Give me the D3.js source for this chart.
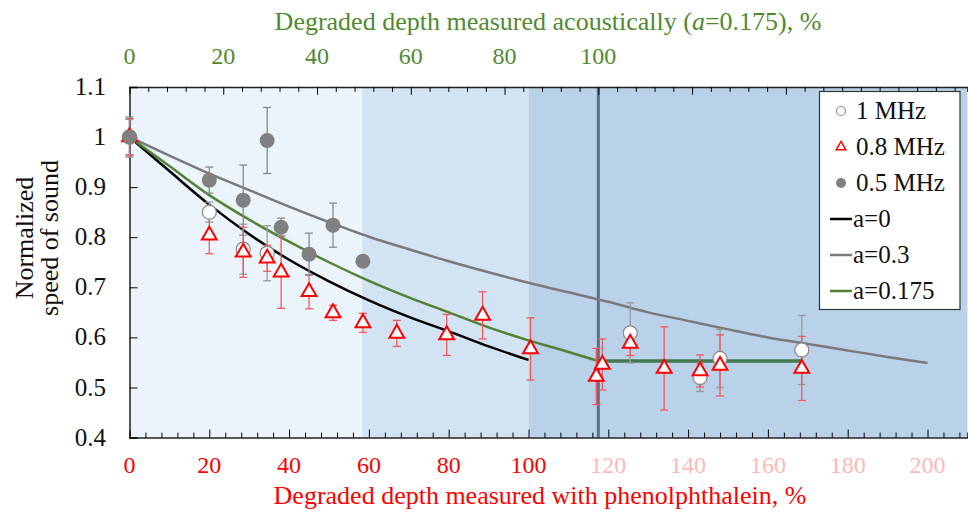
<!DOCTYPE html>
<html>
<head>
<meta charset="utf-8">
<script src="https://cdn.jsdelivr.net/npm/d3@7"></script>
<style>
  body { margin: 0; background: #fff; }
  svg text { font-family: "Liberation Serif", "Times New Roman", Times, "Noto Serif", "DejaVu Serif", serif; }
</style>
</head>
<body>
<svg id="chart"></svg>
<script>
// Measured points: [depth %, normalized speed, error]
const mhz1 = [[0, 1, 0.035], [20, 0.85, 0.02], [28.5, 0.776, 0.05], [34.5, 0.768, 0.055],
  [125.5, 0.609, 0.06], [143, 0.52, 0.028], [148, 0.558, 0.058], [168.5, 0.575, 0.069]];
const mhz08 = [[0, 1, 0.037], [20, 0.804, 0.037], [28.5, 0.77, 0.05], [34.5, 0.758, 0.026],
  [38, 0.73, 0.072], [45, 0.691, 0.034], [51, 0.649, 0.015], [58.5, 0.629, 0.019],
  [67, 0.608, 0.026], [79.5, 0.605, 0.041], [88.5, 0.644, 0.047], [100.5, 0.577, 0.062],
  [117, 0.522, 0.056], [118.5, 0.546, 0.051], [125.5, 0.588, 0.024], [134, 0.538, 0.083],
  [143, 0.533, 0.032], [148, 0.544, 0.061], [168.5, 0.538, 0.064]];
const mhz05 = [[0, 1, 0.04], [20, 0.914, 0.026], [28.5, 0.874, 0.07], [34.5, 0.993, 0.066],
  [38, 0.82, 0.018], [45, 0.766, 0.042], [51, 0.824, 0.044], [58.5, 0.752, 0.01]];

// Model curves
const curveA0 = [[0, 1], [5, 0.966], [10, 0.932], [20, 0.865], [30, 0.806], [40, 0.755],
  [50, 0.712], [60, 0.674], [70, 0.641], [80, 0.612], [90, 0.582], [100, 0.555]];
const curveA03 = [[0, 1], [10, 0.963], [20, 0.927], [30, 0.894], [40, 0.861], [50, 0.83],
  [60, 0.801], [70, 0.776], [80, 0.752], [90, 0.73], [100, 0.709], [110, 0.69], [120, 0.671],
  [130, 0.65], [140, 0.633], [150, 0.616], [160, 0.6], [170, 0.587], [180, 0.574],
  [190, 0.561], [200, 0.549]];
const curveA0175 = [[0, 1], [10, 0.942], [20, 0.884], [30, 0.835], [40, 0.791], [50, 0.75],
  [60, 0.713], [70, 0.68], [80, 0.65], [90, 0.62], [100, 0.594], [110, 0.571], [117.5, 0.553]];
const plateau = [[117.5, 0.553], [168.5, 0.553]];

// Background bands (depth %) and the 100 % acoustic marker
const bands = [[0, 58.3], [58.3, 100], [100, 210]];
const markerDepth = 117.5;

const yTicks = [0.4, 0.5, 0.6, 0.7, 0.8, 0.9, 1, 1.1];
const bottomLabels = [0, 20, 40, 60, 80, 100, 120, 140, 160, 180, 200];
const topLabels = [0, 20, 40, 60, 80, 100];

const width = 968, height = 517;
const mLeft = 129.5, mRight = 967.4, mTop = 86.9, mBottom = 437.6;

const svg = d3.select("#chart").attr("width", width).attr("height", height);

const x = d3.scaleLinear().domain([0, 210]).range([mLeft, mRight]);
const xTop = d3.scaleLinear().domain([0, 210 / 1.175]).range([mLeft, mRight]);
const y = d3.scaleLinear().domain([0.4, 1.1]).range([mBottom, mTop]);

// bands
const bandColors = ["#ebf3fb", "#d2e3f3", "#bad2e9"];
svg.selectAll(".band").data(bands).enter().append("rect")
  .attr("x", d => x(d[0])).attr("y", mTop)
  .attr("width", d => x(d[1]) - x(d[0])).attr("height", mBottom - mTop)
  .attr("fill", (d, i) => bandColors[i]);

svg.append("line")
  .attr("x1", x(markerDepth)).attr("x2", x(markerDepth))
  .attr("y1", mTop).attr("y2", mBottom)
  .attr("stroke", "#5b6f86").attr("stroke-width", 3);

// axes
const minor = d3.range(0, 210, 4);
svg.append("g").attr("transform", `translate(0,${mBottom})`)
  .call(d3.axisTop(x).tickValues(minor).tickSize(5).tickFormat(""))
  .call(g => g.selectAll(".tick line").attr("y2", d => d % 20 === 0 ? -8 : -5))
  .call(g => g.select(".domain").attr("stroke", "#222").attr("stroke-width", 1.5));

const minorTop = d3.range(0, 180, 4);
svg.append("g").attr("transform", `translate(0,${mTop})`)
  .call(d3.axisBottom(xTop).tickValues(minorTop).tickSize(5).tickFormat(""))
  .call(g => g.selectAll(".tick line").attr("y2", d => d % 20 === 0 ? 8 : 5))
  .call(g => g.select(".domain").attr("stroke", "#222").attr("stroke-width", 1.5));

svg.append("g").attr("transform", `translate(${mLeft},0)`)
  .call(d3.axisRight(y).tickValues(yTicks).tickSize(8).tickFormat(""))
  .call(g => g.select(".domain").attr("stroke", "#222").attr("stroke-width", 1.5));

// tick labels
svg.selectAll(".ylab").data(yTicks).enter().append("text")
  .attr("x", 106).attr("y", d => y(d) + 8)
  .attr("text-anchor", "end").attr("font-size", 25).attr("fill", "#111")
  .text(d => d);

svg.selectAll(".xlab").data(bottomLabels).enter().append("text")
  .attr("x", d => x(d)).attr("y", 473)
  .attr("text-anchor", "middle").attr("font-size", 24)
  .attr("fill", d => d <= 100 ? "#ff0000" : "#ffb8b8")
  .text(d => d);

svg.selectAll(".tlab").data(topLabels).enter().append("text")
  .attr("x", d => xTop(d)).attr("y", 64)
  .attr("text-anchor", "middle").attr("font-size", 24).attr("fill", "#4f8a2f")
  .text(d => d);

// titles
const topTitle = svg.append("text").attr("x", 548).attr("y", 30)
  .attr("text-anchor", "middle").attr("font-size", 26).attr("fill", "#4f8a2f");
topTitle.append("tspan").text("Degraded depth measured acoustically (");
topTitle.append("tspan").attr("font-style", "italic").text("a");
topTitle.append("tspan").text("=0.175), %");

svg.append("text").attr("x", 540).attr("y", 504)
  .attr("text-anchor", "middle").attr("font-size", 26).attr("fill", "#ff0000")
  .text("Degraded depth measured with phenolphthalein, %");

svg.append("text").attr("transform", "translate(33,238) rotate(-90)")
  .attr("text-anchor", "middle").attr("font-size", 26).attr("fill", "#111")
  .text("Normalized");
svg.append("text").attr("transform", "translate(58,238) rotate(-90)")
  .attr("text-anchor", "middle").attr("font-size", 26).attr("fill", "#111")
  .text("speed of sound");

// curves
const line = d3.line().x(d => x(d[0])).y(d => y(d[1])).curve(d3.curveMonotoneX);
const curves = [[curveA0, "#000", 2.5], [curveA03, "#7a7a7a", 2.5],
  [curveA0175, "#538135", 2.5], [plateau, "#457a50", 3.5]];
curves.forEach(([pts, c, w]) => {
  svg.append("path").datum(pts).attr("d", line)
    .attr("fill", "none").attr("stroke", c).attr("stroke-width", w);
});

// error bars
function errorBars(pts, color) {
  const g = svg.append("g").attr("stroke", color).attr("stroke-width", 1.3);
  pts.forEach(d => {
    const cx = x(d[0]), y1 = y(d[1] + d[2]), y2 = y(d[1] - d[2]);
    g.append("line").attr("x1", cx).attr("x2", cx).attr("y1", y1).attr("y2", y2);
    g.append("line").attr("x1", cx - 4).attr("x2", cx + 4).attr("y1", y1).attr("y2", y1);
    g.append("line").attr("x1", cx - 4).attr("x2", cx + 4).attr("y1", y2).attr("y2", y2);
  });
}
errorBars(mhz1, "#9a9a9a");
errorBars(mhz08, "#f05a5a");
errorBars(mhz05, "#8a8a8a");

// markers
svg.selectAll(".m1").data(mhz1).enter().append("circle")
  .attr("cx", d => x(d[0])).attr("cy", d => y(d[1])).attr("r", 7)
  .attr("fill", "#fff").attr("stroke", "#8c8c8c").attr("stroke-width", 1.3);

const tri = d3.symbol().type(d3.symbolTriangle).size(95);
svg.selectAll(".m08").data(mhz08).enter().append("path")
  .attr("d", tri).attr("transform", d => `translate(${x(d[0])},${y(d[1])})`)
  .attr("fill", "#fff").attr("stroke", "#ff0000").attr("stroke-width", 2);

svg.selectAll(".m05").data(mhz05).enter().append("circle")
  .attr("cx", d => x(d[0])).attr("cy", d => y(d[1])).attr("r", 7.5)
  .attr("fill", "#808080");

// legend
const lg = svg.append("g");
lg.append("rect").attr("x", 819.5).attr("y", 91.5).attr("width", 140.5).attr("height", 218)
  .attr("fill", "#fff").attr("stroke", "#333").attr("stroke-width", 1.2);
const legendItems = ["1 MHz", "0.8 MHz", "0.5 MHz", "a=0", "a=0.3", "a=0.175"];
legendItems.forEach((t, i) => {
  const cy = 111 + i * 36;
  if (i === 0) lg.append("circle").attr("cx", 841).attr("cy", cy).attr("r", 4.5)
    .attr("fill", "#fff").attr("stroke", "#8c8c8c").attr("stroke-width", 1.2);
  if (i === 1) lg.append("path").attr("d", d3.symbol().type(d3.symbolTriangle).size(40))
    .attr("transform", `translate(841,${cy})`).attr("fill", "#fff")
    .attr("stroke", "#ff0000").attr("stroke-width", 1.5);
  if (i === 2) lg.append("circle").attr("cx", 841).attr("cy", cy).attr("r", 5)
    .attr("fill", "#808080");
  if (i >= 3) lg.append("line").attr("x1", 830).attr("x2", 852).attr("y1", cy).attr("y2", cy)
    .attr("stroke", ["#000", "#7a7a7a", "#538135"][i - 3]).attr("stroke-width", 2.5);
  lg.append("text").attr("x", i >= 3 ? 853 : 856).attr("y", cy + 8)
    .attr("font-size", 25).attr("fill", "#111").text(t);
});
</script>
</body>
</html>
